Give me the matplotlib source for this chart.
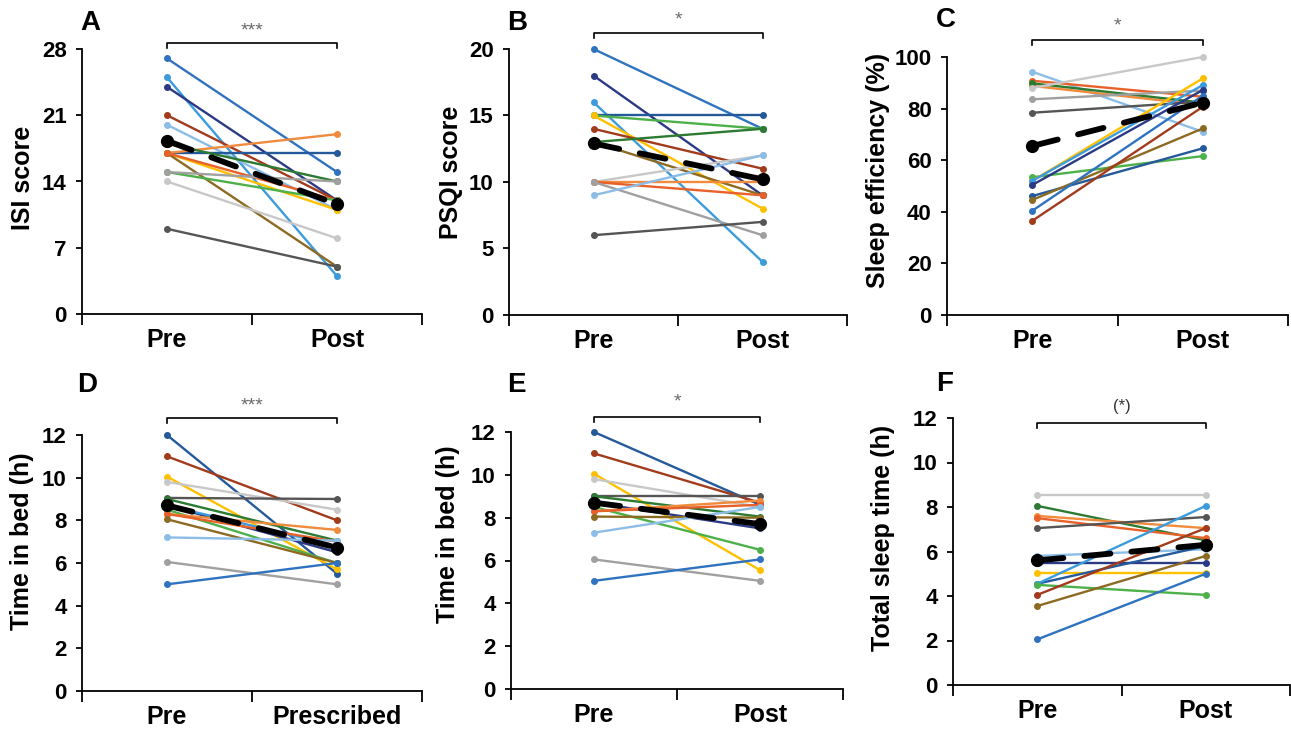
import numpy as np
import matplotlib
matplotlib.use('Agg')
import matplotlib.pyplot as plt
from matplotlib.transforms import blended_transform_factory

plt.rcParams['font.family'] = ['Liberation Sans', 'DejaVu Sans']
plt.rcParams['font.weight'] = 'bold'

W, H = 1291, 732

# colours of the individual participants
BLUE = '#2F73C0'; SKY = '#3C9BDC'; LBLUE = '#8CBDE6'; NAVY = '#2B3A84'; DBLUE = '#24599A'
BROWN = '#A23B1C'; ORANGE = '#F08A3C'; REDOR = '#E8602A'; YELLOW = '#FFC000'; OLIVE = '#8C6A22'
GREEN = '#4DB04A'; DGREEN = '#2D7A32'; GRAY = '#A0A0A0'; LGRAY = '#C8C8C8'; DGRAY = '#555555'

cats = ['Pre', 'Post']
cats_D = ['Pre', 'Prescribed']

# ---- A: ISI score
A_pre = [27, 25, 24, 21, 20, 17, 17, 17, 17, 17, 18, 15, 15, 14, 9]
A_post = [15, 4, 12, 12, 11, 17, 19, 11, 5, 12, 14, 12, 14, 8, 5]
A_col = [BLUE, SKY, NAVY, BROWN, LBLUE, DBLUE, ORANGE, YELLOW, OLIVE, REDOR, DGREEN, GREEN, GRAY, LGRAY, DGRAY]
A_mean = [18.3, 11.6]
A_ticks = [0, 7, 14, 21, 28]

# ---- B: PSQI score
B_pre = [20, 18, 16, 15, 15, 15, 14, 13, 13, 10, 10, 10, 10, 9, 6]
B_post = [14, 9, 4, 15, 14, 8, 11, 14, 9, 12, 10, 9, 6, 12, 7]
B_col = [BLUE, NAVY, SKY, DBLUE, GREEN, YELLOW, BROWN, DGREEN, OLIVE, LGRAY, ORANGE, REDOR, GRAY, LBLUE, DGRAY]
B_mean = [12.9, 10.2]
B_ticks = [0, 5, 10, 15, 20]

# ---- C: Sleep efficiency (%)
C_pre = [94.3, 90.8, 88.8, 89.8, 88, 83.6, 78.4, 53.4, 52, 52, 50.4, 46.1, 44.6, 40.4, 36.5]
C_post = [71, 84.6, 81.4, 82.3, 100, 87, 82.7, 61.6, 91.7, 89.1, 87.2, 64.6, 72.3, 85, 80.7]
C_col = [LBLUE, REDOR, ORANGE, DGREEN, LGRAY, GRAY, DGRAY, GREEN, YELLOW, SKY, NAVY, DBLUE, OLIVE, BLUE, BROWN]
C_mean = [65.5, 82.3]
C_ticks = [0, 20, 40, 60, 80, 100]

# ---- D: Time in bed (h), Pre vs Prescribed
D_pre = [12, 11, 10.05, 9.8, 9.05, 9.0, 8.7, 8.7, 8.5, 8.3, 8.3, 8.05, 7.2, 6.05, 5.0]
D_post = [5.5, 8.0, 5.7, 8.5, 9.0, 7.05, 6.5, 6.8, 6.0, 7.55, 7.0, 6.0, 7.05, 5.0, 6.0]
D_col = [DBLUE, BROWN, YELLOW, LGRAY, DGRAY, DGREEN, NAVY, SKY, GREEN, ORANGE, REDOR, OLIVE, LBLUE, GRAY, BLUE]
D_mean = [8.7, 6.72]
D_ticks = [0, 2, 4, 6, 8, 10, 12]

# ---- E: Time in bed (h), Pre vs Post
E_pre = [12, 11, 10.05, 9.8, 9.0, 9.0, 8.7, 8.5, 8.3, 8.3, 8.05, 7.3, 6.05, 5.05]
E_post = [8.6, 8.7, 5.55, 8.5, 9.0, 8.05, 7.5, 6.5, 8.8, 8.6, 8.0, 8.5, 5.05, 6.05]
E_col = [DBLUE, BROWN, YELLOW, LGRAY, DGRAY, DGREEN, NAVY, GREEN, ORANGE, REDOR, OLIVE, LBLUE, GRAY, BLUE]
E_mean = [8.7, 7.7]
E_ticks = [0, 2, 4, 6, 8, 10, 12]

# ---- F: Total sleep time (h)
F_pre = [8.55, 8.05, 7.6, 7.5, 7.05, 5.8, 5.5, 5.05, 4.55, 4.55, 4.5, 4.05, 3.55, 2.05]
F_post = [8.55, 6.5, 7.05, 6.6, 7.55, 6.1, 5.5, 5.05, 6.25, 8.05, 4.05, 7.05, 5.8, 5.0]
F_col = [LGRAY, DGREEN, ORANGE, REDOR, DGRAY, LBLUE, NAVY, YELLOW, DBLUE, SKY, GREEN, BROWN, OLIVE, BLUE]
F_mean = [5.6, 6.3]
F_ticks = [0, 2, 4, 6, 8, 10, 12]

panels = [
    dict(letter='A', pre=A_pre, post=A_post, col=A_col, mean=A_mean, ticks=A_ticks, cats=cats,
         ylabel='ISI score', sig='***', sig_col='#6a6a6a',
         box=(82, 422, 49, 314), letter_xy=(80, 23), ylab_xy=(23, 178), brk=43, star=22),
    dict(letter='B', pre=B_pre, post=B_post, col=B_col, mean=B_mean, ticks=B_ticks, cats=cats,
         ylabel='PSQI score', sig='*', sig_col='#6a6a6a',
         box=(509, 847, 49, 315), letter_xy=(507, 23), ylab_xy=(451, 172), brk=33, star=11),
    dict(letter='C', pre=C_pre, post=C_post, col=C_col, mean=C_mean, ticks=C_ticks, cats=cats,
         ylabel='Sleep efficiency (%)', sig='*', sig_col='#6a6a6a',
         box=(947, 1288, 57, 315), letter_xy=(936, 20), ylab_xy=(878, 170), brk=40, star=17),
    dict(letter='D', pre=D_pre, post=D_post, col=D_col, mean=D_mean, ticks=D_ticks, cats=cats_D,
         ylabel='Time in bed (h)', sig='***', sig_col='#6a6a6a',
         box=(82, 422, 435, 691), letter_xy=(77, 385), ylab_xy=(22, 541), brk=418, star=397),
    dict(letter='E', pre=E_pre, post=E_post, col=E_col, mean=E_mean, ticks=E_ticks, cats=cats,
         ylabel='Time in bed (h)', sig='*', sig_col='#6a6a6a',
         box=(511, 843, 432, 689), letter_xy=(507, 385), ylab_xy=(448, 534), brk=417, star=393),
    dict(letter='F', pre=F_pre, post=F_post, col=F_col, mean=F_mean, ticks=F_ticks, cats=cats,
         ylabel='Total sleep time (h)', sig='(*)', sig_col='#333333',
         box=(953, 1290, 418, 685), letter_xy=(936, 384), ylab_xy=(883, 538), brk=423, star=399),
]

fig = plt.figure(figsize=(W / 100, H / 100), dpi=100)

for p in panels:
    l, r, t, b = p['box']
    ax = fig.add_axes([l / W, 1 - b / H, (r - l) / W, (b - t) / H])
    x = np.arange(len(p['cats'])) + 0.5
    for yp, yq, c in zip(p['pre'], p['post'], p['col']):
        ax.plot(x, [yp, yq], color=c, lw=1.7, marker='o', ms=4, clip_on=False, zorder=2)
    ax.plot(x, p['mean'], color='black', lw=4.2, dashes=(4.5, 3.6), dash_capstyle='round',
            marker='o', ms=8.5, clip_on=False, zorder=5)

    ax.set_xlim(0, 2)
    ax.set_ylim(p['ticks'][0], p['ticks'][-1])
    ax.set_yticks(p['ticks'])
    ax.tick_params(axis='y', length=4, width=1.3, pad=7, labelsize=16)
    for lab in ax.get_yticklabels():
        lab.set_fontweight('bold')

    ax.set_xticks([0, 1, 2])
    ax.set_xticklabels([])
    ax.tick_params(axis='x', which='major', length=8, width=1.3)
    ax.set_xticks(x, minor=True)
    ax.set_xticklabels(p['cats'], minor=True, fontsize=18, fontweight='bold')
    ax.tick_params(axis='x', which='minor', length=0, pad=10)

    for s in ['top', 'right']:
        ax.spines[s].set_visible(False)
    for s in ['left', 'bottom']:
        ax.spines[s].set_linewidth(1.3)

    # significance bracket
    span = b - t
    yb = (b - p['brk']) / span
    tick = 5 / span
    tr = blended_transform_factory(ax.transData, ax.transAxes)
    ax.plot([x[0], x[0], x[1], x[1]], [yb - tick, yb, yb, yb - tick], color='black', lw=1.2,
            transform=tr, clip_on=False)
    ax.text(x.mean(), (b - p['star']) / span, p['sig'], transform=tr, ha='center', va='top',
            fontsize=14 if p['sig'] != '(*)' else 12, color=p['sig_col'], fontweight='normal')

    fig.text(p['letter_xy'][0] / W, 1 - p['letter_xy'][1] / H, p['letter'], fontsize=20,
             fontweight='bold', ha='left', va='center')
    fig.text(p['ylab_xy'][0] / W, 1 - p['ylab_xy'][1] / H, p['ylabel'], fontsize=18,
             fontweight='bold', rotation=90, ha='center', va='center')

fig.savefig('out.png', dpi=100)
